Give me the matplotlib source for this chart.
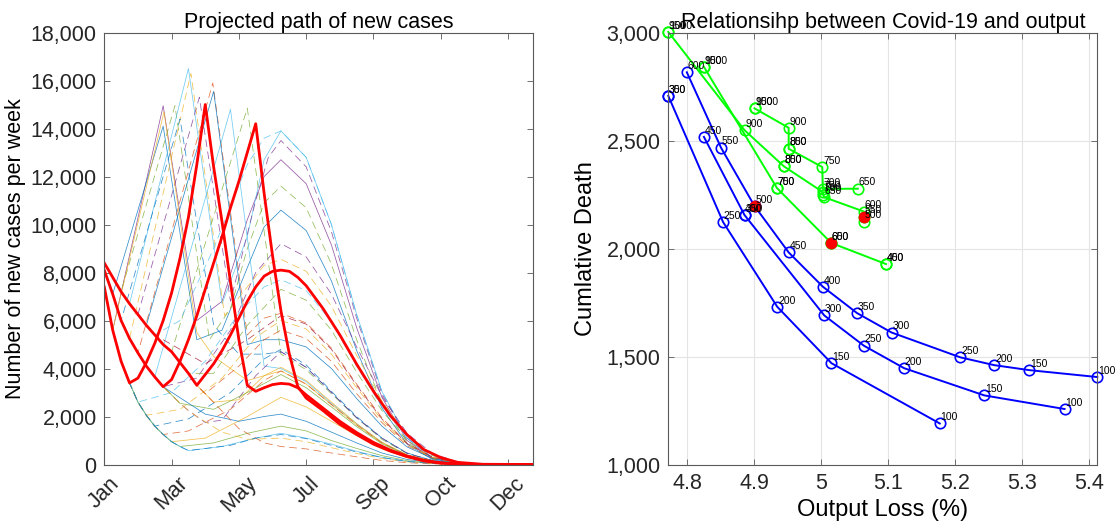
import matplotlib
matplotlib.use('Agg')
import matplotlib.pyplot as plt
from matplotlib.ticker import FuncFormatter

plt.rcParams['font.family'] = ['Liberation Sans', 'DejaVu Sans']

# ---------------- left panel: projected weekly new cases ----------------
month_ticks = [0, 8, 16, 24, 32, 40, 48]
month_labels = ['Jan', 'Mar', 'May', 'Jul', 'Sep', 'Oct', 'Dec']

# three starting declines (weeks 0..13) that the thin paths branch off
decline_weeks = list(range(14))
decline_a = [7400, 5600, 4300, 3400, 2600, 2050, 1600, 1250, 950, 750, 580, 460, 370, 300]
decline_b = [8100, 7100, 6000, 5250, 4650, 4100, 3650, 3240, 2900, 2550, 2250, 2000, 1750, 1500]
decline_c = [8400, 7800, 7200, 6700, 6250, 5800, 5400, 5000, 4700, 4250, 3800, 3300, 2950, 2600]

tail_weeks = [24, 27, 30, 33, 36, 39, 42, 46, 51]

# thin paths: which decline they start on, the week they leave it, then knots
thin_start = ['a', 'b', 'c', 'c', 'b', 'c', 'b', 'c', 'b', 'c', 'a', 'b',
              'c', 'b', 'a', 'c', 'a', 'c', 'a', 'b', 'c', 'a', 'b', 'a',
              'b', 'a', 'a', 'b', 'c', 'c', 'a']
thin_branch = [1, 1, 2, 3, 3, 4, 4, 5, 6, 8, 1, 2,
               6, 7, 4, 10, 5, 12, 6, 12, 13, 7, 9, 8,
               7, 9, 10, 11, 12, 6, 10]
thin_weeks = [
    [7, 11, 14, 17, 19, 21],
    [7, 11, 14, 17, 19, 21],
    [8.4, 12.5, 15, 17, 19, 21],
    [10, 14, 17, 19, 21],
    [10.3, 14.3, 17, 19, 21],
    [11.3, 15, 18, 19.5, 21],
    [12.9, 17, 19, 21],
    [13, 17, 19, 21],
    [15, 19, 21],
    [17, 21],
    [7.1, 11, 13, 17, 21],
    [9, 13, 16, 19, 21],
    [9, 13, 17, 19, 21],
    [11, 15, 18, 21],
    [8, 12, 16, 19, 21],
    [13, 17, 21],
    [9, 14, 18, 21],
    [16, 19, 21],
    [10, 15, 19, 21],
    [14, 18, 21],
    [16, 19, 21],
    [10, 15, 19, 21],
    [13, 17, 21],
    [12, 17, 21],
    [12, 16, 19, 21],
    [13, 17, 21],
    [14, 18, 21],
    [14, 17, 21],
    [16, 19, 21],
    [12, 17, 21],
    [15, 18, 21],
]
thin_vals = [
    [14950, 6000, 6800, 10200, 12000, 12700],
    [14100, 5200, 5600, 8200, 9900, 10600],
    [14950, 5200, 6500, 9000, 10900, 11600],
    [16500, 6700, 9500, 12700, 13900],
    [16300, 6200, 7400, 8300, 8550],
    [15300, 6800, 11000, 12800, 13500],
    [15900, 5400, 6100, 6300],
    [15550, 5000, 5200, 5200],
    [14800, 4100, 4000],
    [14850, 4600],
    [14700, 5500, 4500, 3500, 3900],
    [14400, 5800, 4600, 4600, 4700],
    [6000, 9000, 12500, 13600, 13900],
    [3600, 5600, 8000, 9200],
    [3000, 4300, 6300, 7400, 7700],
    [3800, 5800, 7300],
    [2300, 3600, 5300, 6000],
    [4100, 5200, 5600],
    [1900, 3000, 4400, 4800],
    [1850, 3700, 4700],
    [2700, 3700, 4050],
    [1400, 2300, 3500, 3900],
    [2300, 3000, 3750],
    [1100, 2000, 2800],
    [2100, 1800, 2000, 2100],
    [900, 1300, 1600],
    [750, 1100, 1300],
    [1350, 1050, 1100],
    [1500, 900, 750],
    [4200, 5200, 6200],
    [800, 1100, 1250],
]
thin_tails = [
    [11700, 9150, 5700, 2800, 1000, 250, 50, 0, 0],
    [9750, 7650, 4750, 2350, 850, 210, 40, 0, 0],
    [10700, 8350, 5200, 2550, 930, 230, 45, 0, 0],
    [12800, 10000, 6250, 3050, 1100, 280, 55, 0, 0],
    [8050, 6600, 4550, 2650, 1200, 430, 100, 0, 0],
    [12400, 9700, 6100, 2950, 1100, 270, 55, 0, 0],
    [5900, 4850, 3350, 1950, 880, 320, 75, 0, 0],
    [4900, 4000, 2750, 1600, 730, 260, 60, 0, 0],
    [3450, 2550, 1700, 920, 400, 140, 30, 0, 0],
    [3950, 2950, 1950, 1050, 460, 160, 35, 0, 0],
    [3350, 2500, 1650, 900, 390, 140, 30, 0, 0],
    [4050, 3000, 1950, 1100, 470, 160, 40, 0, 0],
    [12800, 10000, 6250, 3050, 1100, 280, 55, 0, 0],
    [8650, 7100, 4900, 2850, 1300, 460, 110, 0, 0],
    [7250, 5950, 4100, 2400, 1100, 390, 90, 0, 0],
    [6850, 5600, 3850, 2250, 1000, 370, 90, 0, 0],
    [5650, 4600, 3200, 1850, 840, 300, 70, 0, 0],
    [5250, 4300, 2950, 1750, 780, 280, 65, 0, 0],
    [4150, 3050, 2000, 1100, 480, 170, 40, 0, 0],
    [4050, 3000, 1950, 1100, 470, 160, 40, 0, 0],
    [3500, 2600, 1700, 930, 400, 140, 30, 0, 0],
    [3350, 2500, 1650, 900, 390, 140, 30, 0, 0],
    [3200, 2400, 1580, 860, 380, 130, 30, 0, 0],
    [2400, 1800, 1200, 650, 280, 100, 20, 0, 0],
    [1800, 1350, 900, 480, 210, 70, 15, 0, 0],
    [1400, 1000, 670, 370, 160, 55, 10, 0, 0],
    [1100, 850, 550, 300, 130, 45, 10, 0, 0],
    [950, 700, 460, 250, 110, 40, 10, 0, 0],
    [650, 480, 320, 170, 75, 25, 5, 0, 0],
    [5850, 4800, 3300, 1900, 870, 310, 75, 0, 0],
    [1080, 800, 520, 290, 125, 44, 10, 0, 0],
]
thin_colors = ['#7E2F8E', '#0072BD', '#77AC30', '#4DBEEE', '#EDB120', '#7E2F8E',
               '#D95319', '#0072BD', '#4DBEEE', '#77AC30', '#EDB120', '#0072BD',
               '#4DBEEE', '#7E2F8E', '#4DBEEE', '#77AC30', '#EDB120', '#D95319',
               '#0072BD', '#7E2F8E', '#EDB120', '#D95319', '#77AC30', '#EDB120',
               '#0072BD', '#77AC30', '#4DBEEE', '#EDB120', '#D95319', '#A2142F',
               '#0072BD']
thin_dashed = [False, False, True, False, True, True, True, False, False, True,
               False, True, True, True, True, True, True, True, True, True,
               False, True, False, False, False, False, False, True, True, True,
               True]

# highlighted (thick red) paths
red_weeks = [0, 1, 2, 3, 4, 5, 6, 7, 8, 9, 10, 11, 12, 13, 14, 15, 16, 17, 18,
             19, 20, 21, 22, 23, 24, 26, 28, 30, 32, 34, 36, 38, 40, 42, 45, 51]
red_a = [7400, 5600, 4300, 3400, 3600, 4250, 5050, 6000, 7150, 8600, 10300, 12500,
         15000, 12400, 10100, 7600, 5200, 3300, 3050, 3200, 3330, 3380, 3350, 3200,
         2900, 2350, 1800, 1330, 920, 600, 350, 170, 70, 20, 0, 0]
red_b = [8100, 7100, 6000, 5250, 4650, 4100, 3650, 3240, 3540, 4300, 5200, 6200,
         7300, 8400, 9500, 10700, 11800, 13000, 14200, 11300, 8700, 6400, 4600, 3250,
         2770, 2250, 1680, 1250, 850, 560, 330, 150, 60, 15, 0, 0]
red_c = [8400, 7800, 7200, 6700, 6250, 5800, 5400, 5000, 4700, 4250, 3800, 3300,
         3750, 4200, 4750, 5400, 6100, 6800, 7400, 7850, 8050, 8100, 8050, 7800,
         7450, 6500, 5400, 4180, 3050, 2040, 1240, 620, 290, 90, 10, 0]

# ---------------- right panel: deaths vs output loss ----------------
blue1_x = [4.7716, 4.7716, 4.8535, 4.9343, 5.0152, 5.1768]
blue1_y = [2707, 2707, 2122, 1730, 1469, 1190]
blue1_lbl = ['350', '300', '250', '200', '150', '100']

blue2_x = [4.8248, 4.8854, 4.8854, 5.0045, 5.0636, 5.1236, 5.2433, 5.3630]
blue2_y = [2517, 2155, 2155, 1690, 1550, 1446, 1320, 1257]
blue2_lbl = ['450', '400', '350', '300', '250', '200', '150', '100']

blue3_x = [4.7993, 4.8503, 4.9003, 4.9513, 5.0024, 5.0534, 5.1050, 5.2077,
           5.2582, 5.3103, 5.4119]
blue3_y = [2816, 2467, 2197, 1982, 1823, 1701, 1611, 1496, 1460, 1437, 1405]
blue3_lbl = ['600', '550', '500', '450', '400', '350', '300', '250', '200', '150', '100']

green1_x = [4.7716, 4.7716, 4.8854, 4.9444, 4.9444, 5.0020, 5.0030, 5.0040,
            5.0637, 5.0637, 5.0637]
green1_y = [3003, 3003, 2548, 2380, 2380, 2262, 2250, 2238, 2171, 2148, 2125]
green1_lbl = ['1000', '950', '900', '850', '800', '750', '700', '650', '600', '550', '500']

green2_x = [4.8248, 4.8248, 4.9338, 4.9338, 5.0147, 5.0147, 5.0966, 5.0966]
green2_y = [2841, 2841, 2280, 2280, 2026, 2026, 1928, 1928]
green2_lbl = ['1000', '950', '750', '700', '650', '600', '450', '400']

green3_x = [4.9003, 4.9003, 4.9513, 4.9513, 4.9513, 5.0015, 5.0024, 5.0545]
green3_y = [2649, 2649, 2559, 2462, 2462, 2377, 2276, 2277]
green3_lbl = ['1000', '950', '900', '850', '800', '750', '700', '650']

chosen_x = [4.9003, 5.0147, 5.0637]
chosen_y = [2197, 2026, 2148]

# ---------------- drawing ----------------
fig = plt.figure(figsize=(11.19, 5.29), dpi=100)
ax1 = fig.add_axes([0.0932, 0.1219, 0.3834, 0.8166])
ax2 = fig.add_axes([0.5972, 0.1219, 0.3834, 0.8166])

declines = {'a': decline_a, 'b': decline_b, 'c': decline_c}
for i in range(len(thin_start)):
    k = thin_branch[i]
    xs = decline_weeks[:k + 1] + thin_weeks[i] + tail_weeks
    ys = declines[thin_start[i]][:k + 1] + thin_vals[i] + thin_tails[i]
    ls = (0, (10, 6)) if thin_dashed[i] else '-'
    ax1.plot(xs, ys, color=thin_colors[i], lw=0.55, ls=ls, alpha=0.8)

for ys in (red_a, red_b, red_c):
    ax1.plot(red_weeks, ys, color='#FF0000', lw=2.0)

ax1.set_xlim(0, 51)
ax1.set_ylim(0, 18000)
ax1.set_yticks(range(0, 18001, 2000))
ax1.yaxis.set_major_formatter(FuncFormatter(lambda v, p: f'{v:,.0f}'))
ax1.set_xticks(month_ticks)
ax1.set_xticklabels(month_labels, rotation=45, ha='center', va='top')
ax1.set_title('Projected path of new cases', fontsize=15.5, pad=3)
ax1.set_ylabel('Number of new cases per week', fontsize=15.5, labelpad=3)

ax2.grid(True, color='#e4e4e4', lw=0.8)
ax2.set_axisbelow(True)
for xs, ys in ((blue1_x, blue1_y), (blue2_x, blue2_y), (blue3_x, blue3_y)):
    ax2.plot(xs, ys, color='#0000FF', lw=1.4, marker='o', ms=7.5, mfc='none',
             mew=1.2, clip_on=False)
for xs, ys in ((green1_x, green1_y), (green2_x, green2_y), (green3_x, green3_y)):
    ax2.plot(xs, ys, color='#00FF00', lw=1.4, marker='o', ms=7.5, mfc='none',
             mew=1.2, clip_on=False)
ax2.plot(chosen_x, chosen_y, ls='none', marker='o', ms=7.5, color='#FF0000', clip_on=False)

for xs, ys, lbls in ((blue1_x, blue1_y, blue1_lbl), (blue2_x, blue2_y, blue2_lbl),
                     (blue3_x, blue3_y, blue3_lbl), (green1_x, green1_y, green1_lbl),
                     (green2_x, green2_y, green2_lbl), (green3_x, green3_y, green3_lbl)):
    for x, y, t in zip(xs, ys, lbls):
        ax2.annotate(t, (x, y), xytext=(0.5, 4.5), textcoords='offset points',
                     fontsize=7.5, ha='left', va='center', annotation_clip=False)

ax2.set_xlim(4.7716, 5.4119)
ax2.set_ylim(1000, 3000)
ax2.set_yticks([1000, 1500, 2000, 2500, 3000])
ax2.yaxis.set_major_formatter(FuncFormatter(lambda v, p: f'{v:,.0f}'))
ax2.set_xticks([4.8, 4.9, 5.0, 5.1, 5.2, 5.3, 5.4])
ax2.xaxis.set_major_formatter(FuncFormatter(lambda v, p: f'{v:g}'))
ax2.set_title('Relationsihp between Covid-19 and output', fontsize=15.5, pad=3)
ax2.set_ylabel('Cumlative Death', fontsize=17, labelpad=7)
ax2.set_xlabel('Output Loss (%)', fontsize=17, labelpad=4)

for ax in (ax1, ax2):
    for s in ax.spines.values():
        s.set_color('#5a5a5a')
        s.set_linewidth(0.8)
    ax.tick_params(direction='in', top=True, right=True, length=4, width=0.6,
                   color='#5a5a5a', labelsize=15.5, labelcolor='#262626')
    ax.tick_params(axis='y', pad=5.5)
    ax.tick_params(axis='x', pad=6)

fig.savefig('out.png', dpi=100)
